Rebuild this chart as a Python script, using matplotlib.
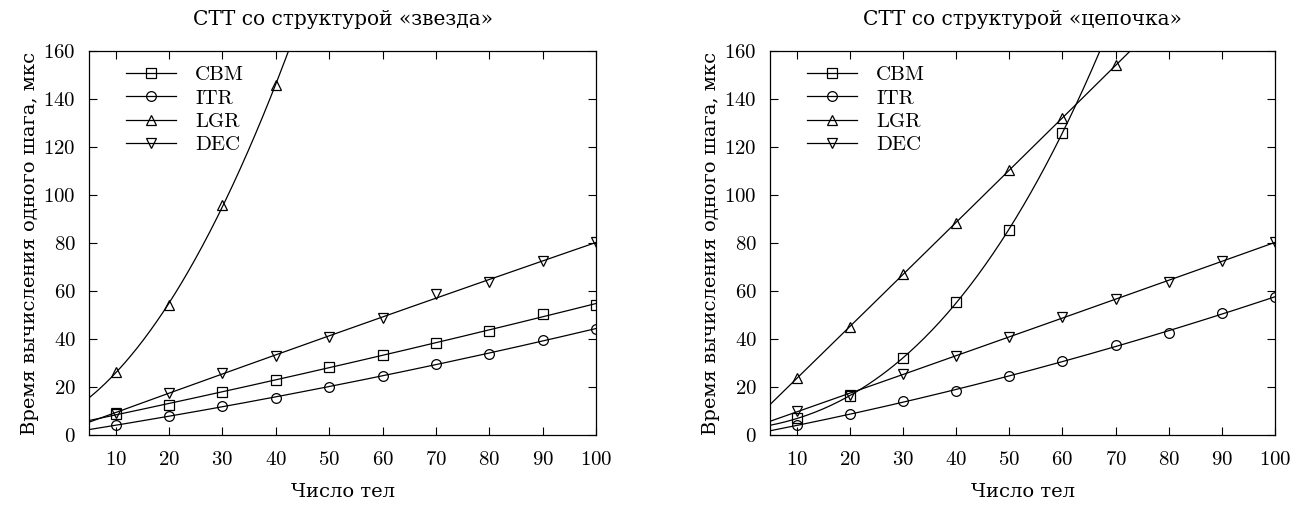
import numpy as np
import matplotlib
matplotlib.use('Agg')
import matplotlib.pyplot as plt
from matplotlib.lines import Line2D

plt.rcParams['font.family'] = ['cmr10', 'DejaVu Serif']
plt.rcParams['axes.formatter.use_mathtext'] = True
plt.rcParams['mathtext.fontset'] = 'cm'

# число тел
n_bodies = [10, 20, 30, 40, 50, 60, 70, 80, 90, 100]

# СТТ "звезда"
star_cbm = [8.8, 12.6, 17.9, 23.1, 28.2, 33.3, 38.3, 43.3, 50.4, 54.2]
star_itr = [4.0, 7.8, 12.2, 15.6, 20.1, 24.6, 29.7, 33.8, 39.4, 44.3]
star_lgr = [26.2, 54.2, 96.0, 146.0]
star_dec = [9.3, 17.6, 25.8, 32.9, 41.0, 48.9, 58.6, 63.9, 72.5, 80.3]

# СТТ "цепочка"
chain_cbm = [6.9, 16.2, 32.1, 55.4, 85.5, 126.0]
chain_itr = [4.0, 8.6, 14.0, 18.5, 24.6, 30.7, 37.4, 42.6, 51.0, 57.4]
chain_lgr = [23.6, 44.9, 67.0, 88.5, 110.5, 132.0, 154.0]
chain_dec = [10.0, 16.7, 25.4, 32.9, 41.0, 49.0, 56.8, 63.9, 72.5, 80.3]

names = ['CBM', 'ITR', 'LGR', 'DEC']
markers = ['s', 'o', '^', 'v']


def draw(ax, data, degs, title):
    xs = np.linspace(5, 100, 400)
    for y, m, d in zip(data, markers, degs):
        x = n_bodies[:len(y)]
        # аппроксимация полиномом (как fit в gnuplot)
        c = np.polyfit(x, y, d)
        ax.plot(xs, np.polyval(c, xs), color='black', lw=0.9)
        ax.plot(x, y, ls='none', marker=m, ms=7, mfc='none', mec='black', mew=0.9)
    ax.set_xlim(5, 100)
    ax.set_ylim(0, 160)
    ax.set_xticks(n_bodies)
    ax.set_yticks(range(0, 161, 20))
    ax.tick_params(direction='in', length=6, width=0.8, top=True, right=True,
                   labelsize=15)
    ax.tick_params(axis='x', pad=11.5)
    ax.tick_params(axis='y', pad=9.5)
    for s in ax.spines.values():
        s.set_linewidth(0.9)
    ax.set_title(title, fontsize=14.5, pad=19, family=['DejaVu Serif'])
    ax.set_xlabel('Число тел', fontsize=14, labelpad=10, family=['DejaVu Serif'])
    ax.set_ylabel('Время вычисления одного шага, мкс', fontsize=14, labelpad=3,
                  family=['DejaVu Serif'])
    handles = [Line2D([], [], color='black', lw=0.9, marker=m, ms=7, mfc='none',
                      mec='black', mew=0.9) for m in markers]
    ax.legend(handles, names, loc='upper left', frameon=False, fontsize=15,
              handlelength=2.4, handletextpad=0.9, labelspacing=0.23,
              borderaxespad=0.3, bbox_to_anchor=(0.045, 1.0))


fig = plt.figure(figsize=(13.04, 5.08), dpi=100)
ax1 = fig.add_axes([0.0683, 0.1437, 0.3888, 0.7559])
ax2 = fig.add_axes([0.5905, 0.1437, 0.3873, 0.7559])

draw(ax1, [star_cbm, star_itr, star_lgr, star_dec], [2, 2, 2, 2],
     'СТТ со структурой «звезда»')
draw(ax2, [chain_cbm, chain_itr, chain_lgr, chain_dec], [3, 2, 2, 2],
     'СТТ со структурой «цепочка»')

fig.savefig('out.png', dpi=100)
